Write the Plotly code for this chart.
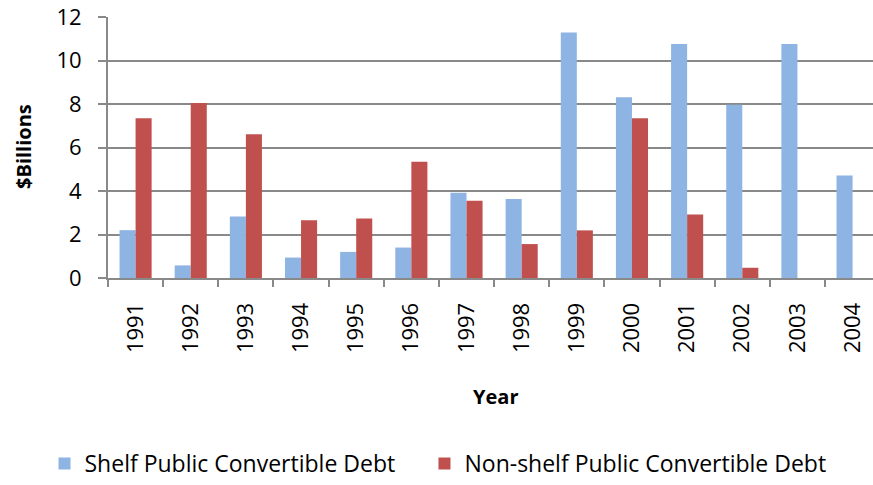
import plotly.graph_objects as go

# Annual public convertible debt issuance, $ billions
years = ["1991", "1992", "1993", "1994", "1995", "1996", "1997",
         "1998", "1999", "2000", "2001", "2002", "2003", "2004"]
shelf = [2.2, 0.58, 2.83, 0.94, 1.2, 1.4, 3.92,
         3.63, 11.29, 8.31, 10.76, 7.96, 10.76, 4.71]
non_shelf = [7.34, 8.05, 6.61, 2.66, 2.73, 5.35, 3.55,
             1.56, 2.19, 7.34, 2.92, 0.47, 0, 0]

BLUE = "#8EB4E3"
RED = "#C0504D"
GRID = "#898989"
FONT = "Open Sans"

fig = go.Figure()
fig.add_trace(go.Bar(x=years, y=shelf, name="Shelf Public Convertible Debt",
                     marker=dict(color=BLUE, line=dict(width=0)),
                     legend="legend"))
fig.add_trace(go.Bar(x=years, y=non_shelf, name="Non-shelf Public Convertible Debt",
                     marker=dict(color=RED, line=dict(width=0)),
                     legend="legend2"))

legend_style = dict(orientation="h", xanchor="left", yanchor="middle",
                    y=-0.711, font=dict(family=FONT, size=23, color="black"))

fig.update_layout(
    width=873, height=485,
    margin=dict(l=108, r=0, t=17, b=205),
    paper_bgcolor="white", plot_bgcolor="white",
    barmode="group", bargap=0.418, bargroupgap=0,
    font=dict(family=FONT, color="black", size=22),
    showlegend=True,
    legend=dict(x=-0.083, **legend_style),
    legend2=dict(x=0.4137, **legend_style),
    xaxis=dict(
        type="category", range=[-0.5, 13.37],
        tickangle=-90, tickson="boundaries",
        ticks="outside", ticklen=7, tickwidth=2, tickcolor=GRID,
        showline=True, linecolor=GRID, linewidth=2,
        showgrid=False, ticklabelstandoff=14,
        tickfont=dict(family=FONT, size=22, color="black"),
    ),
    yaxis=dict(
        range=[0, 12], dtick=2, tick0=0,
        ticks="outside", ticklen=8, tickwidth=2, tickcolor=GRID,
        showline=True, linecolor=GRID, linewidth=2,
        showgrid=True, gridcolor=GRID, gridwidth=2,
        zeroline=False, ticklabelstandoff=12,
        tickfont=dict(family=FONT, size=22, color="black"),
    ),
    annotations=[
        dict(text="<b>$Billions</b>", xref="paper", yref="paper",
             x=0, xshift=-84, y=0.502, xanchor="center", yanchor="middle",
             textangle=-90, showarrow=False,
             font=dict(family=FONT, size=20, color="black")),
        dict(text="<b>Year</b>", xref="paper", yref="paper",
             x=0.506, y=0, yshift=-118, xanchor="center", yanchor="middle",
             showarrow=False,
             font=dict(family=FONT, size=20, color="black")),
    ],
)

fig.write_html("out.html")
